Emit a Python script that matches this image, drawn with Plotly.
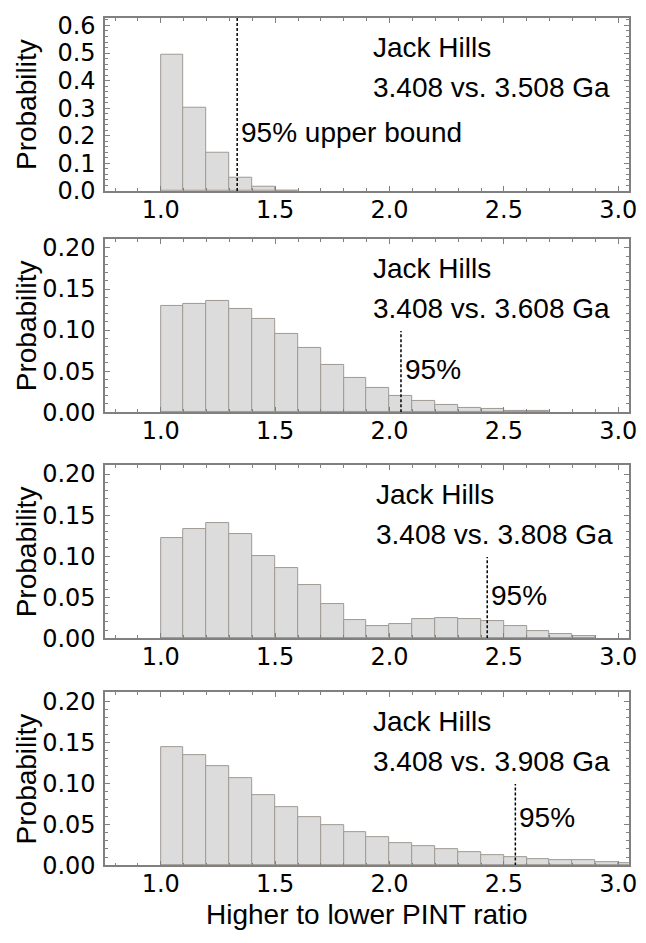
import plotly.graph_objects as go

# ---------------- data ----------------
bins = [1.0, 1.1, 1.2, 1.3, 1.4, 1.5, 1.6, 1.7, 1.8, 1.9, 2.0,
        2.1, 2.2, 2.3, 2.4, 2.5, 2.6, 2.7, 2.8, 2.9, 3.0]
bin_width = 0.1

prob_3508 = [0.494, 0.303, 0.139, 0.049, 0.0155, 0.0015]
prob_3608 = [0.130, 0.1316, 0.135, 0.126, 0.113, 0.0955, 0.078, 0.057, 0.042,
             0.030, 0.020, 0.0136, 0.009, 0.0056, 0.0036, 0.002, 0.001]
prob_3808 = [0.122, 0.133, 0.140, 0.127, 0.100, 0.085, 0.065, 0.042, 0.022,
             0.0144, 0.017, 0.023, 0.025, 0.024, 0.021, 0.0144, 0.009, 0.005, 0.0024]
prob_3908 = [0.144, 0.134, 0.121, 0.106, 0.086, 0.071, 0.059, 0.049, 0.041,
             0.034, 0.027, 0.023, 0.020, 0.0156, 0.0128, 0.010, 0.008, 0.0064,
             0.006, 0.0044, 0.003]

series = [prob_3508, prob_3608, prob_3808, prob_3908]
labels_top = ["Jack Hills"] * 4
labels_age = ["3.408 vs. 3.508 Ga", "3.408 vs. 3.608 Ga",
              "3.408 vs. 3.808 Ga", "3.408 vs. 3.908 Ga"]
upper95 = [1.334, 2.050, 2.427, 2.550]
line_top = [0.628, 0.099, 0.099, 0.099]
label95 = ["95% upper bound", "95%", "95%", "95%"]
label95_y = [0.212, 0.052, 0.052, 0.058]

y_ranges = [[0, 0.628], [0, 0.211], [0, 0.211], [0, 0.211]]
y_dtick = [0.1, 0.05, 0.05, 0.05]
y_minor = [0.02, 0.01, 0.01, 0.01]
y_fmt = [".1f", ".2f", ".2f", ".2f"]
x_ticks = [1.0, 1.5, 2.0, 2.5, 3.0]
x_ticktext = ["1.0", "1.5", "2.0", "2.5", "3.0"]
x_title = "Higher to lower PINT ratio"
y_title = "Probability"

# ---------------- layout helpers ----------------
W, H = 646, 943
FONT = "Liberation Sans, Arial, sans-serif"
TICKFONT = "DejaVu Sans, Liberation Sans, sans-serif"
FS = 28
TFS = 24
frame_left, frame_right = 106.5, 636.7
panel_px = [(12, 189), (238, 415), (469, 646), (701, 878)]
jack_x = [1.92, 1.92, 1.93, 1.92]

fig = go.Figure()
layout = dict(
    width=W, height=H, margin=dict(l=0, r=0, t=0, b=0),
    paper_bgcolor="white", plot_bgcolor="white",
    showlegend=False, font=dict(family=FONT, size=FS, color="black"),
    bargap=0,
)
annotations = []

for i, probs in enumerate(series):
    n = i + 1
    xa = "x" if n == 1 else f"x{n}"
    ya = "y" if n == 1 else f"y{n}"
    xkey = "xaxis" if n == 1 else f"xaxis{n}"
    ykey = "yaxis" if n == 1 else f"yaxis{n}"
    centers = [b + bin_width / 2 for b in bins[:len(probs)]]
    fig.add_trace(go.Bar(
        x=centers, y=probs, width=bin_width, xaxis=xa, yaxis=ya,
        marker=dict(color="#dcdcdc", line=dict(color="#a09a94", width=1)),
        hoverinfo="skip",
    ))
    fig.add_trace(go.Scatter(
        x=[upper95[i], upper95[i]], y=[0, line_top[i]], xaxis=xa, yaxis=ya,
        mode="lines", line=dict(color="black", width=1.5, dash="3px,2px"),
        hoverinfo="skip",
    ))
    top, bot = panel_px[i]
    layout[xkey] = dict(
        domain=[frame_left / W, frame_right / W], anchor=ya,
        range=[0.757, 3.046], tickvals=x_ticks, ticktext=x_ticktext,
        ticks="inside", ticklen=5, tickwidth=1, tickcolor="#808080",
        minor=dict(dtick=0.1, tick0=0, ticks="inside", ticklen=3,
                   tickcolor="#808080", showgrid=False),
        showline=True, linecolor="#808080", linewidth=1.6, mirror="allticks",
        showgrid=False, zeroline=False, ticklabelstandoff=-4,
        tickfont=dict(family=TICKFONT, size=TFS, color="black"),
    )
    layout[ykey] = dict(
        domain=[1 - bot / H, 1 - top / H], anchor=xa,
        range=y_ranges[i], dtick=y_dtick[i], tick0=0, tickformat=y_fmt[i],
        ticks="inside", ticklen=5, tickwidth=1, tickcolor="#808080",
        minor=dict(dtick=y_minor[i], tick0=0, ticks="inside", ticklen=3,
                   tickcolor="#808080", showgrid=False),
        showline=True, linecolor="#808080", linewidth=1.6, mirror="allticks",
        showgrid=False, zeroline=False, ticklabelstandoff=3,
        tickfont=dict(family=TICKFONT, size=TFS, color="black"),
    )
    dref = f"{ya} domain"
    annotations += [
        dict(x=jack_x[i], y=0.83, xref=xa, yref=dref, text=labels_top[i],
             showarrow=False, xanchor="left", yanchor="middle",
             font=dict(family=FONT, size=FS, color="black")),
        dict(x=jack_x[i], y=0.60, xref=xa, yref=dref, text=labels_age[i],
             showarrow=False, xanchor="left", yanchor="middle",
             font=dict(family=FONT, size=FS, color="black")),
        dict(x=upper95[i], y=label95_y[i], xref=xa, yref=ya, text=label95[i],
             showarrow=False, xanchor="left", yanchor="middle", xshift=2,
             font=dict(family=FONT, size=FS, color="black")),
        dict(x=27 / W, y=1 - (top + bot) / 2 / H, xref="paper", yref="paper",
             text=y_title, textangle=-90, showarrow=False,
             xanchor="center", yanchor="middle",
             font=dict(family=FONT, size=FS, color="black")),
    ]

annotations.append(dict(
    x=(frame_left + frame_right) / 2 / W, y=1 - 928 / H, xref="paper", yref="paper",
    text=x_title, showarrow=False, xanchor="center", yanchor="middle",
    font=dict(family=FONT, size=FS, color="black")))

layout["annotations"] = annotations
fig.update_layout(**layout)
fig.write_html("out.html")
